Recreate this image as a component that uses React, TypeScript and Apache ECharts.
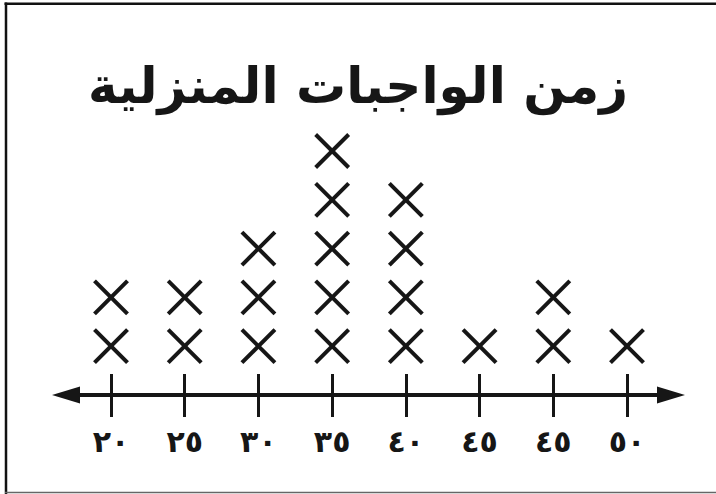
import React, { useEffect, useRef } from 'react';
import * as echarts from 'echarts';

const chartTitle = 'زمن الواجبات المنزلية';
const tickLabels = ['٢٠', '٢٥', '٣٠', '٣٥', '٤٠', '٤٥', '٤٥', '٥٠'];
const counts = [2, 2, 3, 5, 4, 1, 2, 1];

export default function App() {
  const ref = useRef<HTMLDivElement>(null);
  useEffect(() => {
    const chart = echarts.init(ref.current!, null, { renderer: 'svg' });
    const ink = '#161616';
    const points: number[][] = [];
    counts.forEach((c, i) => {
      for (let r = 1; r <= c; r++) points.push([i, r]);
    });
    const tickIdx = tickLabels.map((_, i) => i);
    const xMin = -0.6105;
    const xMax = 7.597;
    chart.setOption({
      animation: false,
      backgroundColor: '#ffffff',
      title: {
        text: chartTitle,
        left: 'center',
        top: 56,
        textStyle: { fontFamily: 'DejaVu Sans', fontWeight: 'bold', fontSize: 50, color: ink },
      },
      grid: { left: 66, right: 45, top: 151, bottom: 99 },
      xAxis: [
        {
          type: 'value',
          min: xMin,
          max: xMax,
          position: 'bottom',
          axisLine: {
            show: true,
            onZero: false,
            lineStyle: { color: ink, width: 4 },
            symbol: ['triangle', 'triangle'],
            symbolSize: [17, 28],
          },
          axisTick: { show: true, customValues: tickIdx, length: 22, lineStyle: { color: ink, width: 3 } },
          axisLabel: {
            show: true,
            customValues: tickIdx,
            formatter: (v: number) => tickLabels[Math.round(v)],
            margin: 31,
            fontFamily: 'DejaVu Sans',
            fontWeight: 'bold',
            fontSize: 30,
            color: ink,
          },
          splitLine: { show: false },
        },
        {
          type: 'value',
          min: xMin,
          max: xMax,
          position: 'bottom',
          axisLine: { show: false, onZero: false },
          axisTick: { show: true, inside: true, customValues: tickIdx, length: 21, lineStyle: { color: ink, width: 3 } },
          axisLabel: { show: false },
          splitLine: { show: false },
        },
      ],
      yAxis: { type: 'value', min: 0, max: 5, show: false },
      graphic: [
        { type: 'line', shape: { x1: 4.5, y1: 3.7, x2: 716, y2: 3.7 }, style: { stroke: '#111', lineWidth: 2.5 } },
        { type: 'line', shape: { x1: 6, y1: 2.5, x2: 6, y2: 494 }, style: { stroke: '#111', lineWidth: 2.5 } },
        { type: 'line', shape: { x1: 5, y1: 492.5, x2: 716, y2: 492.5 }, style: { stroke: '#666', lineWidth: 1.5 } },
      ],
      series: [
        {
          type: 'custom',
          xAxisIndex: 0,
          yAxisIndex: 0,
          data: points,
          renderItem: (_params: any, api: any) => {
            const c = api.coord([api.value(0), api.value(1)]);
            const h = 16.5;
            const st = { stroke: ink, lineWidth: 4, fill: 'none' };
            return {
              type: 'group',
              children: [
                { type: 'line', shape: { x1: c[0] - h, y1: c[1] - h, x2: c[0] + h, y2: c[1] + h }, style: st },
                { type: 'line', shape: { x1: c[0] - h, y1: c[1] + h, x2: c[0] + h, y2: c[1] - h }, style: st },
              ],
            };
          },
        },
      ],
    });
    return () => chart.dispose();
  }, []);
  return <div ref={ref} style={{ position: 'fixed', left: 0, top: 0, width: 716, height: 494 }} />;
}
